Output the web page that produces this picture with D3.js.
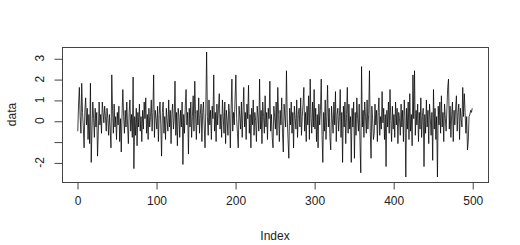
<!DOCTYPE html>
<html>
<head>
<meta charset="utf-8">
<script src="https://cdn.jsdelivr.net/npm/d3@7"></script>
<style>
  body { margin: 0; background: #fff; }
  text { font-family: "Liberation Sans", Arial, sans-serif; fill: #222; }
</style>
</head>
<body>
<div id="plot"></div>
<script>
// values, index 1..500
var data = [
  -0.5, 0.8, 1.6, 0.2, -0.6, 1.8, 0.4, -0.3, -1.3, 0.5,
  1.1, -0.2, 0.6, -0.9, 0.3, -1.1, 1.8, -2.0, -0.4, 0.9,
  0.1, -0.8, 0.6, -0.3, 0.4, -1.7, -0.5, 0.9, -0.2, 0.3,
  -0.6, 0.9, 0.4, -0.1, 0.7, 0.2, -0.5, 0.6, 0.1, -0.7,
  0.3, -0.4, -1.3, 2.2, 0.5, -0.6, 0.8, -0.3, 0.2, -0.9,
  0.4, -0.2, 0.7, -1.0, 0.1, -1.5, 0.3, 1.5, 0.2, -0.6,
  0.5, -0.3, 0.9, -0.2, -1.1, 0.4, 1.0, -0.5, 0.3, -0.8,
  2.1, -2.3, 0.2, -0.7, 0.6, -1.2, 0.4, -0.3, 0.8, -0.5,
  0.2, -1.0, 0.5, -0.4, 0.9, 0.1, 1.1, -0.6, 0.3, -0.9,
  0.6, -0.3, 0.2, 1.0, -0.5, 0.4, 2.2, -0.8, 0.5, 0.1,
  -0.4, 0.7, -1.0, 0.3, 0.9, -0.2, -1.7, 0.4, 0.9, -0.6,
  0.2, -0.9, 0.6, 0.0, -0.5, 1.0, -0.3, 0.5, -1.1, 0.3,
  0.8, -0.4, 0.1, 1.9, -0.7, 0.4, -1.2, 0.6, 0.2, -0.8,
  0.5, -0.3, 0.9, -2.1, 0.3, -0.6, 0.7, 1.5, -0.2, 0.4,
  -1.6, 0.6, -0.3, 0.9, -0.8, 0.2, 1.2, -0.5, 1.9, 0.3,
  -0.9, 0.5, -0.2, 1.1, -0.6, 0.3, 0.8, -1.0, 0.4, 0.9,
  -0.3, -1.3, 0.6, 3.3, 0.2, -0.7, 1.0, -0.2, 0.5, -0.9,
  0.7, 0.1, 2.2, -0.5, 0.4, -1.0, 0.8, -0.2, 0.6, 1.3,
  -0.4, 0.3, -0.8, 1.0, 0.2, -0.6, 0.9, -1.1, 0.5, 0.0,
  -0.7, 0.8, 0.3, -1.3, 0.6, 2.0, -0.5, 0.4, -0.2, 1.1,
  2.2, 0.1, -0.6, -1.3, 0.7, 0.2, -0.4, 0.9, -0.8, 0.5,
  1.6, -0.3, 0.4, -0.9, 0.8, 0.1, 1.7, -0.6, 0.3, -1.3,
  0.6, -0.2, 1.0, -0.7, 0.4, 0.0, -1.0, 0.7, 0.2, -0.5,
  2.0, -0.4, 0.5, -1.1, 0.9, 0.2, -0.6, 1.2, -0.3, 0.4,
  -0.9, 0.6, 0.1, 1.9, -0.5, 0.3, -0.8, -1.3, 0.7, 0.2,
  -0.4, 0.9, -0.7, 1.6, 0.3, -1.0, 0.5, -0.2, 1.1, -0.6,
  -1.5, 0.8, 0.2, -0.3, 2.4, 0.1, -0.9, -1.8, 0.6, -0.2,
  0.9, -0.6, 0.4, -1.3, 0.7, 0.1, -0.4, 1.0, -0.8, 0.3,
  0.6, -0.3, 1.1, -0.7, 0.2, 0.8, 1.6, -0.5, 0.4, -1.0,
  0.7, -0.2, 1.2, -0.9, 2.0, 0.1, -0.6, 0.9, -0.3, 1.5,
  -0.4, 0.6, -1.0, 0.3, -1.3, 0.8, -0.2, 0.5, 2.0, -0.7,
  -2.0, 0.4, -0.5, 1.0, -0.9, 0.2, 1.7, -0.3, 0.6, -0.8,
  -1.4, 0.7, 0.1, -0.6, 0.9, -0.2, 1.4, -1.0, 0.3, 0.6,
  -0.5, 0.2, 1.5, -0.8, 0.4, -2.0, 0.7, -0.3, 0.9, -1.1,
  0.3, 1.6, -0.6, 0.8, -0.4, 0.2, -2.0, 0.6, -0.3, 0.9,
  -1.8, 0.4, -0.7, 1.1, 0.1, -0.5, 0.8, -1.0, -2.5, 2.6,
  -0.3, 0.5, -0.8, 0.9, 0.2, -0.6, 1.0, -0.4, 0.3, 2.4,
  -0.5, -1.8, 0.7, 0.1, -0.9, -0.6, 0.8, -0.2, 0.5, -1.0,
  0.4, 1.1, -0.7, 0.2, -0.4, 1.4, -0.1, 0.6, -0.9, 0.3,
  -2.2, 0.5, -0.3, 0.9, -0.6, 1.5, 0.0, -1.0, 0.7, -0.4,
  0.3, -0.8, 0.9, -0.2, 0.6, -1.1, 0.4, 0.1, -0.7, 0.8,
  -0.3, 0.5, -1.0, 1.0, 0.2, -2.7, 0.6, -0.4, 0.9, -0.9,
  1.3, -0.5, 0.3, -1.2, 2.2, 0.1, 2.4, -0.7, 0.5, -0.2,
  0.8, -1.0, 0.4, -0.4, 1.1, -0.8, 0.2, 0.6, -2.2, 0.3,
  -0.6, 1.0, -0.3, 0.5, -1.1, 0.8, 0.1, -0.7, 0.4, -1.9,
  1.5, -0.4, 0.6, -0.9, 0.2, -2.7, 0.7, -0.2, 0.9, -0.6,
  1.2, -0.3, 0.4, -1.0, 0.8, 0.1, -0.5, 0.6, 1.6, 2.0,
  -0.4, 0.7, -0.8, 0.3, 0.9, -1.0, 0.5, -0.2, 0.6, 1.2,
  -0.5, 0.4, 0.8, -0.9, 0.6, 0.1, -0.3, 1.6, 0.2, 1.3,
  0.4, -0.6, 0.2, -1.4, -1.0, 0.2, 0.3, 0.5, 0.4, 0.6
];
var xTicks = [0, 100, 200, 300, 400, 500];
var yTicks = [-2, -1, 0, 1, 2, 3];
var yLabels = ["-2", "", "0", "1", "2", "3"];

var width = 520, height = 245;
var box = { left: 62, right: 488, top: 47, bottom: 182 };

var svg = d3.select("#plot").append("svg")
  .attr("width", width)
  .attr("height", height);

// R style 4% padding on both axes
var n = data.length;
var xPad = (n - 1) * 0.04;
var xScale = d3.scaleLinear()
  .domain([1 - xPad, n + xPad])
  .range([box.left, box.right]);

var yMin = d3.min(data), yMax = d3.max(data);
var yPad = (yMax - yMin) * 0.04;
var yScale = d3.scaleLinear()
  .domain([yMin - yPad, yMax + yPad])
  .range([box.bottom, box.top]);

// the series
var line = d3.line()
  .x((d, i) => xScale(i + 1))
  .y(d => yScale(d));

svg.append("path")
  .datum(data)
  .attr("d", line)
  .attr("fill", "none")
  .attr("stroke", "#000")
  .attr("stroke-width", 0.75)
  .attr("stroke-linejoin", "round");

// box
svg.append("rect")
  .attr("x", box.left + 0.5)
  .attr("y", box.top + 0.5)
  .attr("width", box.right - box.left)
  .attr("height", box.bottom - box.top)
  .attr("fill", "none")
  .attr("stroke", "#444")
  .attr("stroke-width", 1);

// x axis
var xAxis = svg.append("g")
  .attr("transform", `translate(0.5, ${box.bottom + 0.5})`)
  .call(d3.axisBottom(xScale).tickValues(xTicks).tickSize(7).tickPadding(7));
xAxis.select(".domain").remove();
xAxis.selectAll("line").attr("stroke", "#444");
xAxis.selectAll("text")
  .attr("font-size", "12px")
  .attr("fill", "#222")
  .style("font-family", "Liberation Sans, Arial, sans-serif");

// y axis, labels parallel to the axis like R's default
var yAxis = svg.append("g")
  .attr("transform", `translate(${box.left + 0.5}, 0.5)`)
  .call(d3.axisLeft(yScale).tickValues(yTicks).tickSize(8).tickFormat(""));
yAxis.select(".domain").remove();
yAxis.selectAll("line").attr("stroke", "#444");

svg.append("g").selectAll("text")
  .data(yTicks)
  .enter()
  .append("text")
  .attr("transform", d => `translate(44, ${yScale(d)}) rotate(-90)`)
  .attr("text-anchor", "middle")
  .attr("font-size", "12px")
  .text((d, i) => yLabels[i]);

// axis titles
svg.append("text")
  .attr("x", (box.left + box.right) / 2)
  .attr("y", 240)
  .attr("text-anchor", "middle")
  .attr("font-size", "12px")
  .text("Index");

svg.append("text")
  .attr("transform", `translate(16, ${(box.top + box.bottom) / 2}) rotate(-90)`)
  .attr("text-anchor", "middle")
  .attr("font-size", "12px")
  .text("data");
</script>
</body>
</html>
